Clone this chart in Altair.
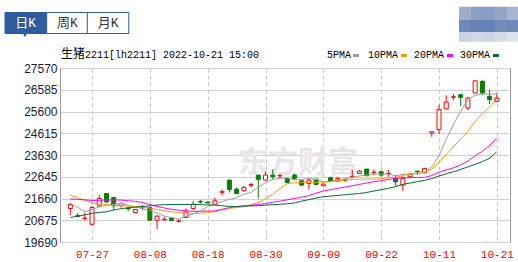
import altair as alt
import pandas as pd

dates = ["07-22", "07-25", "07-26", "07-27", "07-28", "07-29", "08-01", "08-02", "08-03", "08-04",
         "08-05", "08-08", "08-09", "08-10", "08-11", "08-12", "08-15", "08-16", "08-17", "08-18",
         "08-19", "08-22", "08-23", "08-24", "08-25", "08-26", "08-29", "08-30", "08-31", "09-01",
         "09-02", "09-05", "09-06", "09-07", "09-08", "09-09", "09-13", "09-14", "09-15", "09-16",
         "09-19", "09-20", "09-21", "09-22", "09-23", "09-26", "09-27", "09-28", "09-29", "09-30",
         "10-10", "10-11", "10-12", "10-13", "10-14", "10-17", "10-18", "10-19", "10-20", "10-21"]

opens = [21205, 20880, 20750, 20493, 21327, 21887, 21705, 21342, 21220, 21024,
         21240, 21250, 20675, 20690, 20780, 20630, 20796, 21205, 21530, 21500,
         21387, 21940, 22493, 22084, 22009, 22260, 22720, 22494, 22720, 22680,
         22570, 22720, 22463, 22342, 22524, 22236, 22600, 22448, 22480, 22630,
         22797, 22993, 22830, 22872, 22780, 22570, 22266, 22645, 22900, 22827,
         24620, 24787, 25716, 26240, 26360, 25761, 26435, 26960, 26285, 26060]
highs = [21463, 21000, 21020, 21311, 21811, 21887, 21720, 21478, 21280, 21170,
         21360, 21310, 20902, 20835, 20820, 20720, 21205, 21554, 21584, 21520,
         21705, 22069, 22493, 22160, 22220, 22372, 22720, 22872, 22978, 22797,
         22615, 22797, 22463, 22570, 22570, 22312, 22645, 22645, 22570, 22948,
         22948, 22993, 22978, 22918, 22948, 22720, 22675, 22827, 22900, 23040,
         24683, 25911, 26330, 26390, 26400, 26255, 26990, 27035, 26585, 26435]
lows = [20902, 20800, 20675, 20493, 21310, 21463, 21130, 21250, 21100, 21020,
        21130, 20675, 20266, 20680, 20630, 20580, 20780, 21160, 21430, 21440,
        21370, 21811, 21933, 21856, 21963, 22160, 21660, 22463, 22524, 22570,
        22387, 22494, 22220, 22069, 22266, 22220, 22418, 22448, 22418, 22630,
        22766, 22690, 22720, 22645, 22645, 22221, 22009, 22645, 22720, 22797,
        24458, 24593, 25716, 26106, 25836, 25656, 26435, 26360, 25941, 26030]
closes = [21387, 20850, 20770, 21251, 21660, 21508, 21327, 21433, 21190, 21160,
          21260, 20675, 20857, 20720, 20660, 20650, 21054, 21400, 21500, 21460,
          21554, 21970, 22069, 21887, 22160, 22290, 22524, 22720, 22645, 22700,
          22387, 22570, 22266, 22494, 22297, 22312, 22448, 22570, 22500, 22645,
          22900, 22690, 22850, 22720, 22800, 22418, 22570, 22750, 22872, 23024,
          24683, 25686, 26031, 26270, 26240, 26211, 26990, 26435, 26136, 26210]

ma5 = [21442, 21250, 21062, 21170, 21270, 21350, 21400, 21442, 21350, 21270,
       21200, 21130, 21000, 20870, 20790, 20731, 20850, 20960, 21100, 21300,
       21400, 21520, 21620, 21700, 21850, 21930, 22180, 22380, 22520, 22570,
       22600, 22500, 22520, 22580, 22520, 22420, 22430, 22520, 22560, 22615,
       22680, 22720, 22766, 22766, 22766, 22690, 22760, 22770, 22795, 22840,
       23095, 23589, 24338, 25012, 25611, 26136, 26330, 26390, 26390, 26390]
ma10 = [21815, 21700, 21580, 21460, 21420, 21380, 21350, 21330, 21320, 21300,
        21270, 21230, 21160, 21110, 21060, 21024, 21000, 20980, 20990, 21017,
        21060, 21139, 21210, 21250, 21288, 21380, 21470, 21650, 21850, 22100,
        22330, 22370, 22393, 22390, 22390, 22400, 22418, 22460, 22494, 22520,
        22539, 22539, 22539, 22560, 22600, 22620, 22700, 22765, 22790, 22840,
        22990, 23290, 23650, 24000, 24350, 24700, 25150, 25500, 25800, 26170]
ma20 = [21640, 21620, 21600, 21570, 21580, 21590, 21595, 21590, 21560, 21530,
        21480, 21380, 21300, 21230, 21170, 21130, 21100, 21075, 21080, 21090,
        21100, 21170, 21250, 21290, 21320, 21350, 21390, 21430, 21490, 21540,
        21600, 21660, 21720, 21790, 21900, 22000, 22060, 22120, 22180, 22240,
        22300, 22360, 22420, 22470, 22520, 22570, 22600, 22610, 22615, 22615,
        22700, 22850, 22950, 23050, 23180, 23350, 23600, 23800, 24060, 24380]
ma30 = [20800, 20860, 20920, 20987, 21030, 21060, 21140, 21200, 21240, 21270,
        21300, 21330, 21360, 21380, 21390, 21390, 21390, 21390, 21380, 21370,
        21360, 21330, 21300, 21300, 21318, 21325, 21333, 21360, 21380, 21400,
        21420, 21460, 21540, 21610, 21680, 21740, 21770, 21800, 21830, 21860,
        21890, 21930, 22000, 22060, 22120, 22200, 22300, 22360, 22420, 22480,
        22560, 22680, 22780, 22870, 22980, 23090, 23210, 23330, 23480, 23780]

y_ticks = [19690, 20675, 21660, 22645, 23630, 24615, 25600, 26585, 27570]
x_tick_idx = [3, 11, 19, 27, 35, 43, 51, 59]
ma_names = ["5PMA", "10PMA", "20PMA", "30PMA"]
ma_colors = ["#a0a0a0", "#f0a000", "#ff00ff", "#007030"]
tab_names = ["日K", "周K", "月K"]
title_cn = "生猪"
title_rest = "2211[lh2211] 2022-10-21 15:00"
watermark = "东方财富"
mosaic_colors = [["#9eadc9", "#8b9fc5", "#8a9ec4", "#93a5c8", "#a6b6d4"],
                 ["#6f89b9", "#6682b5", "#6580b4", "#738cba", "#6f89b8"],
                 ["#c9d2e5", "#cfd7e8", "#ccd4e6", "#d5dbe9", "#dde2ee"]]

RED = "#ff0000"
GREEN = "#0a7d0a"
BLUE = "#2e5c9e"
MONO = "'Liberation Mono', 'Noto Sans CJK SC', monospace"

df = pd.DataFrame({"i": list(range(len(dates))), "date": dates, "open": opens,
                   "high": highs, "low": lows, "close": closes,
                   "5PMA": ma5, "10PMA": ma10, "20PMA": ma20, "30PMA": ma30})
df["dir"] = ["up" if c >= o else "down" for o, c in zip(opens, closes)]

label_arr = "[" + ",".join("'%s'" % d for d in dates) + "]"

xs = alt.Scale(domain=[-0.74, 60.13], nice=False, zero=False)
ys = alt.Scale(domain=[19690, 27570], nice=False, zero=False)

x_axis = alt.Axis(values=x_tick_idx, labelExpr=label_arr + "[datum.value]", grid=True,
                  gridDash=[4, 3], gridColor="#c8c8c8", ticks=False, domain=False,
                  labelColor=RED, labelFont=MONO, labelFontSize=11, labelPadding=6,
                  labelOverlap=False, title=None)
y_axis = alt.Axis(values=y_ticks, grid=True, gridColor="#d0d0d0", ticks=False, domain=False,
                  labelColor="#1a1a3a", labelFont="Liberation Sans", labelFontSize=12,
                  labelPadding=3, labelOverlap=False, labelBound=False, title=None,
                  format="d", tickCount=9)

base = alt.Chart(df)

wicks = base.mark_rule(strokeWidth=1).encode(
    x=alt.X("i:Q", scale=xs, axis=x_axis),
    y=alt.Y("low:Q", scale=ys, axis=y_axis),
    y2="high:Q",
    stroke=alt.Stroke("dir:N", scale=alt.Scale(domain=["up", "down"], range=[RED, GREEN]), legend=None),
)
bodies = base.mark_bar(size=4, strokeWidth=1).encode(
    x=alt.X("i:Q", scale=xs, axis=x_axis),
    y=alt.Y("open:Q", scale=ys, axis=y_axis),
    y2="close:Q",
    fill=alt.Fill("dir:N", scale=alt.Scale(domain=["up", "down"], range=["#ffffff", GREEN]), legend=None),
    stroke=alt.Stroke("dir:N", scale=alt.Scale(domain=["up", "down"], range=[RED, GREEN]), legend=None),
)
lines = [base.mark_line(strokeWidth=1, color=col).encode(
    x=alt.X("i:Q", scale=xs, axis=x_axis),
    y=alt.Y(name + ":Q", scale=ys, axis=y_axis),
) for name, col in zip(ma_names, ma_colors)]

one = pd.DataFrame({"k": [0]})

wm = alt.Chart(pd.DataFrame({"t": [watermark]})).mark_text(
    font="'Noto Sans CJK SC'", fontSize=30, fontWeight="bold", color="#e6e6ea",
    align="left", baseline="alphabetic").encode(
    x=alt.value(178), y=alt.value(104), text="t:N")

title1 = alt.Chart(pd.DataFrame({"t": [title_cn]})).mark_text(
    font="'Noto Sans CJK SC'", fontSize=12, color="#000000", align="left",
    baseline="alphabetic").encode(x=alt.value(1), y=alt.value(-10), text="t:N")
title2 = alt.Chart(pd.DataFrame({"t": [title_rest]})).mark_text(
    font=MONO, fontSize=10, color="#000000", align="left",
    baseline="alphabetic").encode(x=alt.value(25), y=alt.value(-10), text="t:N")

layers = [wm, wicks, bodies] + lines + [title1, title2]

# legend: text followed by a colour swatch
leg_x = [267, 308, 354, 400]
sw_x = [293, 341, 387, 433]
for name, col, lx, sx in zip(ma_names, ma_colors, leg_x, sw_x):
    layers.append(alt.Chart(pd.DataFrame({"t": [name]})).mark_text(
        font=MONO, fontSize=10, color="#000000", align="left", baseline="alphabetic").encode(
        x=alt.value(lx), y=alt.value(-10), text="t:N"))
    layers.append(alt.Chart(one).mark_rect(color=col).encode(
        x=alt.value(sx), x2=alt.value(sx + 6), y=alt.value(-14), y2=alt.value(-11)))

# period tabs
tab_x = [-55, -13.3, 27.3]
tab_w = 41.5
for k, (name, tx) in enumerate(zip(tab_names, tab_x)):
    active = k == 0
    layers.append(alt.Chart(one).mark_rect(
        fill=BLUE if active else "#ffffff", stroke=BLUE, strokeWidth=1).encode(
        x=alt.value(tx), x2=alt.value(tx + tab_w), y=alt.value(-55.5), y2=alt.value(-34.5)))
    layers.append(alt.Chart(pd.DataFrame({"t": [name]})).mark_text(
        font=MONO, fontSize=13, color="#ffffff" if active else "#333333",
        align="center", baseline="middle").encode(
        x=alt.value(tx + tab_w / 2), y=alt.value(-45), text="t:N"))
layers.append(alt.Chart(one).mark_point(shape="triangle-down", filled=True, color=BLUE,
                                         size=25, opacity=1).encode(
    x=alt.value(-35), y=alt.value(-33)))

# pixelated logo at top right
row_y = [(-61.3, -48), (-48, -35.7), (-35.7, -26.3)]
for r, (y0, y1) in enumerate(row_y):
    for c, col in enumerate(mosaic_colors[r]):
        x0 = 399 + 12 * c
        layers.append(alt.Chart(one).mark_rect(color=col).encode(
            x=alt.value(x0), x2=alt.value(x0 + 12), y=alt.value(y0), y2=alt.value(y1)))

chart = alt.layer(*layers).properties(
    width=450, height=174,
    padding={"left": 60, "top": 68, "right": 8, "bottom": 20},
    autosize="none",
    background="#ffffff",
).configure_view(stroke="#999999", strokeWidth=1).configure_axis(labelOverlap=False)

chart.save("out.html", embed_options={"renderer": "svg", "actions": False})
